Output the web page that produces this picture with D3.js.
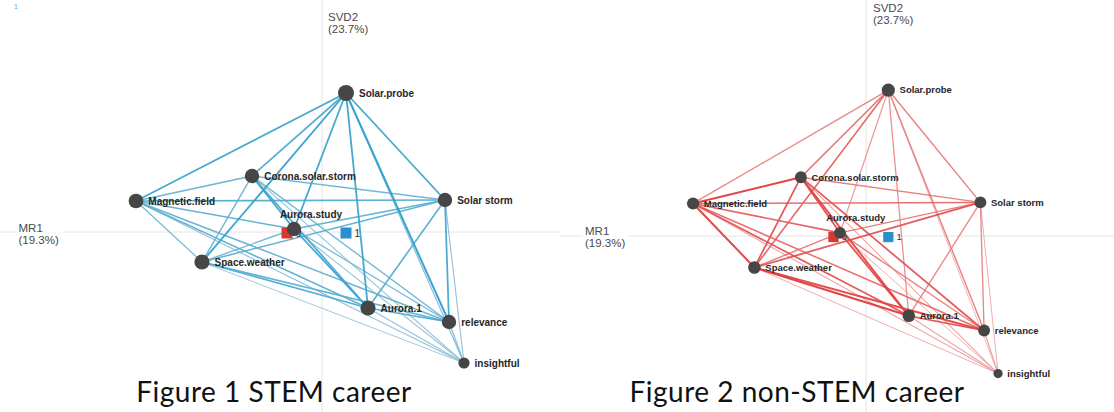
<!DOCTYPE html>
<html>
<head>
<meta charset="utf-8">
<script src="https://cdn.jsdelivr.net/npm/d3@7"></script>
<style>
  body { margin: 0; background: #fff; }
  svg { display: block; }
</style>
</head>
<body>
<svg id="chart" width="1114" height="412"></svg>
<script>
// ---- data ----
const nodeNames = ["Solar.probe", "Corona.solar.storm", "Magnetic.field", "Solar storm",
                   "Aurora.study", "Space.weather", "Aurora.1", "relevance", "insightful"];
const nodeDim1 = [0.12, -0.35, -0.93, 0.615, -0.14, -0.60, 0.23, 0.635, 0.71];
const nodeDim2 = [0.695, 0.28, 0.155, 0.16, 0.015, -0.15, -0.38, -0.45, -0.655];
const nodeFreq = [1.0, 0.9, 0.92, 0.9, 0.9, 0.95, 0.95, 0.9, 0.7];

const groupNames = ["0", "1"];
const groupDim1 = [-0.175, 0.12];
const groupDim2 = [-0.005, -0.005];

// edge endpoints (indices into nodeNames)
const edgeFrom = [0,0,0,0,0,0,0,0, 1,1,1,1,1,1,1, 2,2,2,2,2,2, 3,3,3,3,3, 4,4,4,4, 5,5,5, 6,6, 7];
const edgeTo   = [2,1,5,4,6,7,3,8, 2,3,5,4,6,7,8, 3,4,5,6,7,8, 4,5,6,7,8, 5,6,7,8, 6,7,8, 7,8, 8];

// association strength per edge
const weightsSTEM = [0.8, 0.7, 0.85, 0.8, 0.8, 0.9, 0.8, 0.35,
                     0.55, 0.5, 0.55, 0.8, 0.75, 0.5, 0.25,
                     0.65, 0.6, 0.45, 0.6, 0.55, 0.3,
                     0.6, 0.6, 0.65, 0.75, 0.3,
                     0.5, 0.8, 0.45, 0.25,
                     0.7, 0.6, 0.2,
                     0.7, 0.3,
                     0.4];
const weightsNonSTEM = [0.45, 0.6, 0.65, 0.35, 0.4, 0.5, 0.5, 0.15,
                        0.9, 0.5, 0.75, 0.8, 0.85, 0.75, 0.25,
                        0.6, 0.7, 0.9, 0.75, 0.6, 0.25,
                        0.5, 0.75, 0.45, 0.45, 0.2,
                        0.5, 0.8, 0.5, 0.2,
                        0.9, 0.85, 0.2,
                        0.75, 0.25,
                        0.3];

const axisXLabel = ["MR1", "(19.3%)"];
const axisYLabel = ["SVD2", "(23.7%)"];
const captions = ["Figure 1 STEM career", "Figure 2 non-STEM career"];

// ---- drawing ----
const svg = d3.select("#chart");

// tiny page marker
svg.append("text").attr("x", 14).attr("y", 9)
  .attr("font-family", "Liberation Sans, Arial, sans-serif")
  .attr("font-size", 7).attr("fill", "#7a9cc0").text("1");

const panels = [
  { left: 0, width: 560, cx: 322, cy: 232, sx: 200, sy: 200, r: 8, font: 10,
    weights: weightsSTEM, pale: "rgb(188,206,218)", strong: "rgb(28,154,206)",
    mrX: 18.5, mrY: 232, svdX: 328, svdY: 21, caption: captions[0], capX: 274 },
  { left: 560, width: 554, cx: 866, cy: 236, sx: 186, sy: 210, r: 6.6, font: 9.5,
    weights: weightsNonSTEM, pale: "rgb(242,196,196)", strong: "rgb(222,44,44)",
    mrX: 585, mrY: 235, svdX: 873, svdY: 12, caption: captions[1], capX: 797 }
];

panels.forEach(p => {
  const g = svg.append("g");
  const x = d3.scaleLinear().domain([-1, 1]).range([p.cx - p.sx, p.cx + p.sx]);
  const y = d3.scaleLinear().domain([-1, 1]).range([p.cy + p.sy, p.cy - p.sy]);
  const rScale = d3.scaleLinear().domain([0, 1]).range([0, p.r]);
  const col = d3.scaleLinear().domain([0, 1]).range([p.pale, p.strong]).interpolate(d3.interpolateRgb);
  const wid = d3.scaleLinear().domain([0, 1]).range([0.7, 2.1]);

  // axes through the origin
  g.append("line").attr("x1", p.left).attr("x2", p.left + p.width)
    .attr("y1", y(0)).attr("y2", y(0)).attr("stroke", "#e4e4e4").attr("stroke-width", 1);
  g.append("line").attr("x1", x(0)).attr("x2", x(0))
    .attr("y1", 0).attr("y2", 412).attr("stroke", "#e4e4e4").attr("stroke-width", 1);

  // axis titles
  const lab = { "font-family": "Liberation Sans, Arial, sans-serif", "font-size": 11.5, fill: "#4a4a4a" };
  const mr = g.append("g");
  mr.append("rect").attr("x", p.mrX - 2).attr("y", p.mrY - 10).attr("width", 46).attr("height", 24).attr("fill", "#fff");
  axisXLabel.forEach((t, i) => {
    const tx = mr.append("text").attr("x", p.mrX).attr("y", p.mrY + i * 12).text(t);
    Object.entries(lab).forEach(([k, v]) => tx.attr(k, v));
  });
  axisYLabel.forEach((t, i) => {
    const tx = g.append("text").attr("x", p.svdX).attr("y", p.svdY + i * 12).text(t);
    Object.entries(lab).forEach(([k, v]) => tx.attr(k, v));
  });

  // edges, weakest first
  const edges = edgeFrom.map((a, i) => ({ a, b: edgeTo[i], w: p.weights[i] }))
    .sort((m, n) => m.w - n.w);
  g.append("g").selectAll("line").data(edges).join("line")
    .attr("x1", d => x(nodeDim1[d.a])).attr("y1", d => y(nodeDim2[d.a]))
    .attr("x2", d => x(nodeDim1[d.b])).attr("y2", d => y(nodeDim2[d.b]))
    .attr("stroke", d => col(d.w))
    .attr("stroke-width", d => wid(d.w))
    .attr("stroke-opacity", 0.95);

  // group markers
  const groupColors = ["#d53a2f", "#2b8fcc"];
  const sq = 11 * p.sx / 200;
  const gg = g.append("g").selectAll("g").data(groupNames).join("g");
  gg.append("rect")
    .attr("x", (d, i) => x(groupDim1[i]) - sq / 2)
    .attr("y", (d, i) => y(groupDim2[i]) - sq / 2)
    .attr("width", sq).attr("height", sq)
    .attr("fill", (d, i) => groupColors[i]);
  gg.append("text")
    .attr("x", (d, i) => x(groupDim1[i]) + sq / 2 + 3)
    .attr("y", (d, i) => y(groupDim2[i]))
    .attr("dy", "0.35em")
    .attr("font-family", "Liberation Sans, Arial, sans-serif")
    .attr("font-size", p.font).attr("fill", "#333")
    .text(d => d);

  // nodes
  g.append("g").selectAll("circle").data(nodeNames).join("circle")
    .attr("cx", (d, i) => x(nodeDim1[i]))
    .attr("cy", (d, i) => y(nodeDim2[i]))
    .attr("r", (d, i) => rScale(nodeFreq[i]))
    .attr("fill", "#464646");

  // node labels
  g.append("g").selectAll("text").data(nodeNames).join("text")
    .attr("x", (d, i) => d === "Aurora.study"
      ? x(nodeDim1[i]) + 17 * p.sx / 200
      : x(nodeDim1[i]) + rScale(nodeFreq[i]) + 5 * p.sx / 200)
    .attr("y", (d, i) => d === "Aurora.study"
      ? y(nodeDim2[i]) - 11.5 * p.sy / 200
      : y(nodeDim2[i]))
    .attr("dy", d => d === "Aurora.study" ? 0 : "0.35em")
    .attr("text-anchor", d => d === "Aurora.study" ? "middle" : "start")
    .attr("font-family", "Liberation Sans, Arial, sans-serif")
    .attr("font-weight", "bold")
    .attr("font-size", p.font)
    .attr("fill", "#262626")
    .text(d => d);

  // caption
  g.append("text").attr("x", p.capX).attr("y", 402)
    .attr("text-anchor", "middle")
    .attr("font-family", "Lato, 'Open Sans', sans-serif")
    .attr("font-size", 28).attr("letter-spacing", 0.5).attr("fill", "#111")
    .text(p.caption);
});
</script>
</body>
</html>
